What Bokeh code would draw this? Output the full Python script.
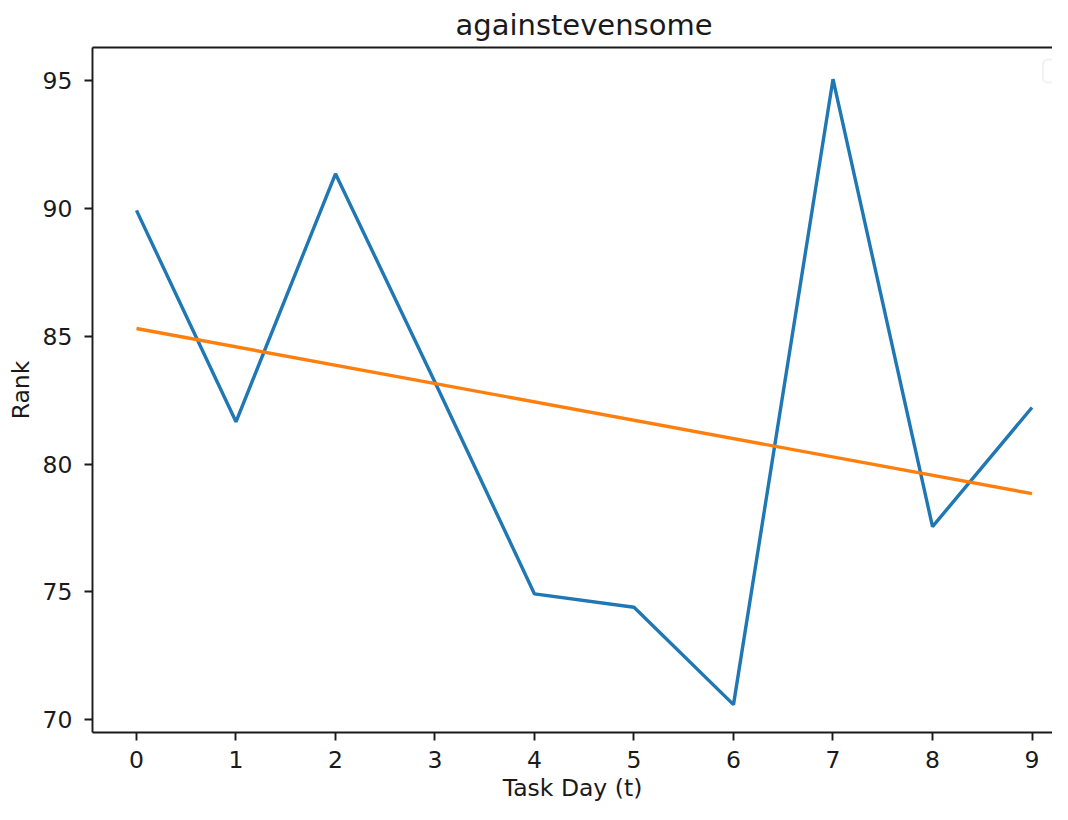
from bokeh.plotting import figure
from bokeh.models import Range1d, FixedTicker, LinearAxis, BoxAnnotation
from bokeh.embed import file_html
from bokeh.resources import INLINE

# ---- data ----
days = [0, 1, 2, 3, 4, 5, 6, 7, 8, 9]
rank = [89.92, 81.65, 91.35, 83.2, 74.92, 74.40, 70.59, 95.05, 77.55, 82.21]
trend_days = [0, 9]
trend_rank = [85.30, 78.84]
x_ticks = [0, 1, 2, 3, 4, 5, 6, 7, 8, 9]
y_ticks = [70, 75, 80, 85, 90, 95]
title_text = "againstevensome"
x_label = "Task Day (t)"
y_label = "Rank"

FONT = "DejaVu Sans"
INK = "#1a1a1a"

p = figure(width=1052, height=804, output_backend="svg", toolbar_location=None,
           x_range=Range1d(-0.442, 9.206), y_range=Range1d(69.50, 96.289),
           min_border_left=92, min_border_right=0, min_border_top=47,
           min_border_bottom=72, background_fill_color="white",
           border_fill_color="white")
p.outline_line_color = None
p.grid.visible = False

p.title.text = title_text
p.title.text_font = FONT
p.title.text_font_size = "29px"
p.title.text_font_style = "normal"
p.title.text_color = INK
p.title.align = "left"
p.title.offset = 363
p.title.standoff = 11

for ax in (p.xaxis[0], p.yaxis[0]):
    ax.axis_line_width = 1.9
    ax.axis_line_color = INK
    ax.major_tick_line_width = 1.9
    ax.major_tick_line_color = INK
    ax.major_tick_out = 8
    ax.major_tick_in = 0
    ax.minor_tick_line_color = None
    ax.major_label_text_font = FONT
    ax.major_label_text_font_size = "23.5px"
    ax.major_label_text_color = INK
    ax.axis_label_text_font = FONT
    ax.axis_label_text_font_size = "23.5px"
    ax.axis_label_text_font_style = "normal"
    ax.axis_label_text_color = INK

p.xaxis[0].ticker = FixedTicker(ticks=x_ticks)
p.yaxis[0].ticker = FixedTicker(ticks=y_ticks)
p.xaxis[0].axis_label = x_label
p.yaxis[0].axis_label = y_label
p.xaxis[0].major_label_standoff = 10
p.xaxis[0].axis_label_standoff = 3
p.yaxis[0].major_label_standoff = 12
p.yaxis[0].axis_label_standoff = 5

# top spine
top = LinearAxis(ticker=FixedTicker(ticks=[]), axis_line_width=1.9,
                 axis_line_color=INK, major_tick_line_color=None,
                 minor_tick_line_color=None, major_label_text_font_size="0px")
p.add_layout(top, "above")

p.line(days, rank, line_color="#1f77b4", line_width=3.4)
p.line(trend_days, trend_rank, line_color="#ff7f0e", line_width=3.4)

# empty legend frame (matplotlib draws an empty legend box)
p.add_layout(BoxAnnotation(left=9.11, right=9.32, top=95.82, bottom=94.92,
                           fill_color="white", fill_alpha=0.8,
                           line_color="#d0d0d0", line_width=2,
                           border_radius=5))

open("out.html", "w").write(file_html(p, INLINE))
